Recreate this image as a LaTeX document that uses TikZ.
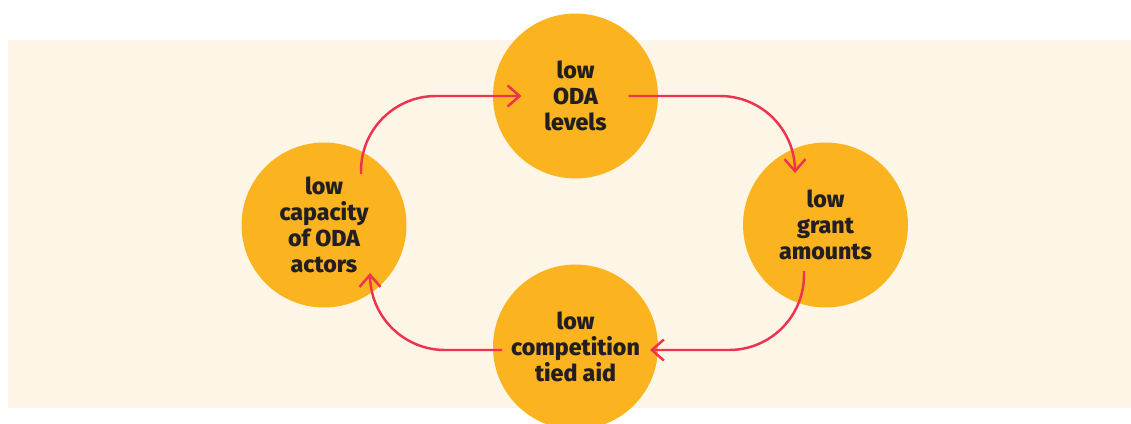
\documentclass[tikz,border=0pt]{standalone}
\usepackage{fontspec}
\setmainfont{Fira Sans}[BoldFont={Fira Sans ExtraBold}]
\usetikzlibrary{arrows.meta, calc}

\definecolor{cream}{HTML}{FDF5E6}
\definecolor{amber}{HTML}{FBB41F}
\definecolor{rosered}{HTML}{EE3350}
\definecolor{ink}{HTML}{231F20}

\begin{document}
\begin{tikzpicture}[x=0.02cm, y=-0.02cm,
  bub/.style={circle, fill=amber, minimum size=3.3cm, inner sep=0pt, align=center, text=ink, font=\bfseries\fontsize{13.2}{14.7}\selectfont},
  arr/.style={-{Straight Barb[length=2.4mm, width=4.2mm]}, line width=1.4pt, draw=rosered, rounded corners=1.5cm}]
\useasboundingbox (0,0) rectangle (1131,423);
\clip (0,0) rectangle (1131,423);
\fill[white] (0,0) rectangle (1131,423);
\fill[cream] (8,40) rectangle (1131,408);
\node[bub] (lev) at (575.5,96) {low\\ODA\\levels};
\node[bub] (gra) at (825.5,225) {low\\grant\\amounts};
\node[bub] (cmp) at (575.5,347) {low\\competition\\tied aid};
\node[bub] (cap) at (324,225) {low\\capacity\\of ODA\\actors};
\draw[arr] ($(cap)+(37,-51)$) |- ($(lev)+(-54,0)$);
\draw[arr] ($(lev)+(53,0)$) -| ($(gra)+(-30.5,-52)$);
\draw[arr] ($(gra)+(-21.5,46)$) |- ($(cmp)+(74.5,3)$);
\draw[arr] ($(cmp)+(-73.5,3)$) -| ($(cap)+(46,48)$);
\end{tikzpicture}
\end{document}
